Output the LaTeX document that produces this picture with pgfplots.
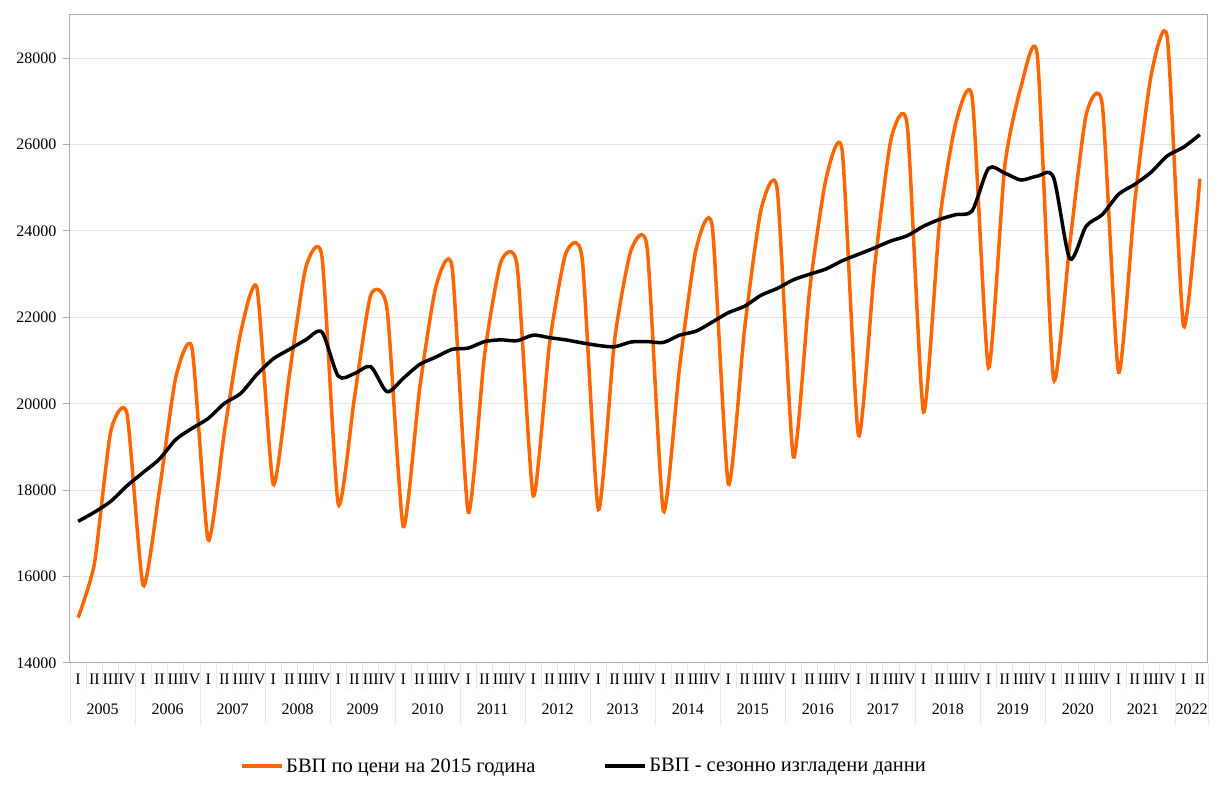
\documentclass[border=0pt]{standalone}
\usepackage{fontspec}
\setmainfont{Liberation Serif}
\usepackage{pgfplots}
\pgfplotsset{compat=1.18}

\definecolor{gdporange}{HTML}{FF6600}
\definecolor{gridgray}{HTML}{E4E4E4}
\definecolor{axisgray}{HTML}{ABABAB}
\definecolor{sepgray}{HTML}{E8E8E8}

% GDP at 2015 prices, quarterly, 2005 Q1 = 0 ... 2022 Q2 = 69
\pgfplotstableread{
q   gdp    sa
0   15050  17280
1   16300  17490
2   19350  17740
3   19780  18100
4   15800  18410
5   18000  18720
6   20600  19170
7   21300  19430
8   16850  19660
9   19350  20010
10  21650  20240
11  22680  20680
12  18140  21040
13  20680  21260
14  23150  21480
15  23400  21660
16  17680  20640
17  20150  20700
18  22520  20860
19  22200  20280
20  17160  20590
21  20330  20910
22  22700  21080
23  23170  21260
24  17490  21290
25  21130  21440
26  23280  21480
27  23200  21460
28  17870  21590
29  21400  21530
30  23480  21480
31  23380  21410
32  17550  21350
33  21480  21320
34  23540  21430
35  23620  21440
36  17520  21420
37  20860  21590
38  23560  21680
39  24120  21890
40  18140  22110
41  21750  22260
42  24480  22510
43  24970  22670
44  18770  22870
45  22640  23000
46  25200  23120
47  25860  23310
48  19270  23460
49  23180  23610
50  26120  23770
51  26450  23890
52  19810  24110
53  24250  24270
54  26520  24380
55  27080  24470
56  20840  25450
57  25500  25340
58  27340  25180
59  28070  25270
60  20580  25240
61  23700  23360
62  26680  24110
63  26920  24380
64  20730  24850
65  24690  25080
66  27600  25360
67  28470  25740
68  21800  25940
69  25210  26230
}\gdpdata

\begin{document}
\begin{tikzpicture}
\useasboundingbox (-70pt,-139pt) rectangle (1151pt,663pt);
\begin{axis}[
    at={(0pt,0pt)}, anchor=south west,
    scale only axis,
    width=1138pt, height=648pt,
    xmin=-0.5, xmax=69.5,
    ymin=14000, ymax=29000,
    clip=false,
    axis line style={axisgray, line width=1pt},
    xtick pos=bottom, ytick pos=left,
    tick align=outside,
    major tick length=7pt,
    minor tick length=26pt,
    every major x tick/.append style={draw=none},
    every minor x tick/.append style={sepgray, line width=0.8pt},
    every major y tick/.append style={axisgray, line width=1pt},
    ytick={14000,16000,...,28000},
    scaled y ticks=false,
    ymajorgrids,
    major grid style={gridgray, line width=1pt},
    /pgf/number format/assume math mode=true,
    /pgf/number format/1000 sep={},
    yticklabel style={font=\fontsize{16}{18}\selectfont, xshift=-3pt},
    xtick={0,...,69},
    minor xtick={0.5,1.5,...,68.5},
    xticklabels={I,II,III,IV,I,II,III,IV,I,II,III,IV,I,II,III,IV,I,II,III,IV,
                 I,II,III,IV,I,II,III,IV,I,II,III,IV,I,II,III,IV,I,II,III,IV,
                 I,II,III,IV,I,II,III,IV,I,II,III,IV,I,II,III,IV,I,II,III,IV,
                 I,II,III,IV,I,II,III,IV,I,II},
    xticklabel style={font=\fontsize{16}{18}\selectfont, inner xsep=0pt},
    extra x ticks={1.5,5.5,9.5,13.5,17.5,21.5,25.5,29.5,33.5,37.5,41.5,45.5,
                   49.5,53.5,57.5,61.5,65.5,68.5},
    extra x tick labels={2005,2006,2007,2008,2009,2010,2011,2012,2013,2014,
                         2015,2016,2017,2018,2019,2020,2021,2022},
    extra x tick style={xticklabel style={yshift=-30pt}, grid=none},
    legend columns=2,
    legend style={draw=none, fill=none, at={(0.4517,0)}, anchor=center,
        yshift=-103pt, font=\fontsize{20.5}{24}\selectfont,
        /tikz/every even column/.append style={column sep=66pt}},
    legend image code/.code={\draw[#1, line width=4pt] (0pt,0pt) -- (40pt,0pt);},
]

\addplot[gdporange, line width=3.5pt, smooth, tension=0.36] table[x=q, y=gdp] {\gdpdata};
\addlegendentry{БВП по цени на 2015 година}

\addplot[black, line width=3.5pt, smooth, tension=0.45] table[x=q, y=sa] {\gdpdata};
\addlegendentry{БВП - сезонно изгладени данни}

% year separators below the category axis
\pgfplotsinvokeforeach{-0.5,3.5,7.5,11.5,15.5,19.5,23.5,27.5,31.5,35.5,39.5,
                       43.5,47.5,51.5,55.5,59.5,63.5,67.5,69.5}{
    \draw[sepgray, line width=0.8pt] (axis cs:#1,14000) -- ++(0pt,-62pt);
}
\end{axis}
\end{tikzpicture}
\end{document}
